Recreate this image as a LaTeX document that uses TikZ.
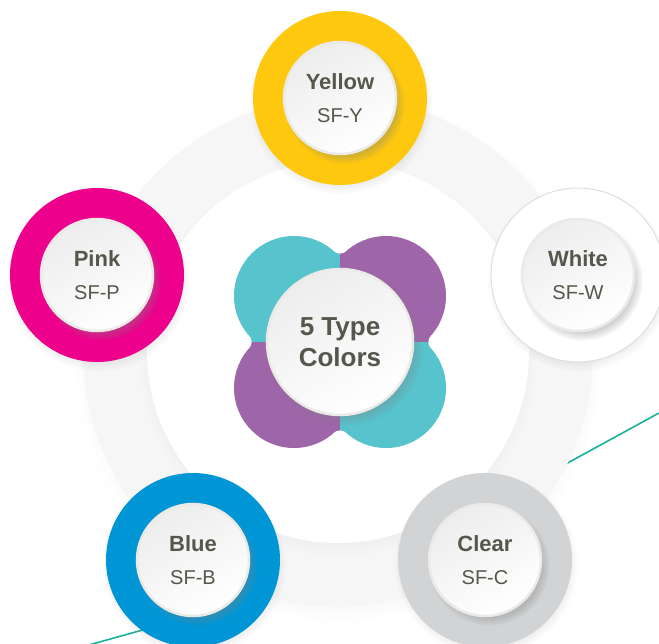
\documentclass[tikz,border=0pt]{standalone}
\usepackage{fontspec}
\setmainfont{Liberation Sans}
\usetikzlibrary{shadows}

\definecolor{yellowc}{HTML}{FDC80D}
\definecolor{pinkc}{HTML}{EC008C}
\definecolor{bluec}{HTML}{0096D6}
\definecolor{clearc}{HTML}{D1D3D5}
\definecolor{whiteedge}{HTML}{DCDEE1}
\definecolor{lobeteal}{HTML}{56C3CD}
\definecolor{lobepurple}{HTML}{9E65A9}
\definecolor{linec}{HTML}{18B29A}
\definecolor{labelc}{HTML}{56574C}
\definecolor{rimc}{HTML}{ECEAE7}
\definecolor{facetop}{HTML}{EDEDED}
\definecolor{bandc}{HTML}{F6F6F7}

\begin{document}
\begin{tikzpicture}[x=1pt, y=-1pt,
  every node/.style={text=labelc},
  colordisk/.style={circle, minimum size=174pt, inner sep=0pt,
    circular drop shadow={shadow xshift=1pt, shadow yshift=-4pt, shadow scale=1.06, opacity=0.18}},
  labeldisk/.style={circle, minimum size=112pt, inner sep=0pt, align=center,
    draw=rimc, line width=2.5pt, top color=facetop, bottom color=white, shading angle=30,
    circular drop shadow={shadow xshift=4pt, shadow yshift=-5pt, shadow scale=1.08, opacity=0.35},
    font=\fontsize{20}{33}\selectfont},
  bgshadow/.style={circular drop shadow={shadow xshift=0pt, shadow yshift=-6pt, shadow scale=1.04, opacity=0.10}}]
  \useasboundingbox (0,0) rectangle (659,643);

  % teal lines behind
  \coordinate (rl1) at (659,413);
  \coordinate (rl2) at (520,489);
  \coordinate (ll1) at (60,653);
  \coordinate (ll2) at (175,621);
  \draw[linec, line width=1.6pt] (rl1) -- (rl2);
  \draw[linec, line width=1.6pt] (ll1) -- (ll2);

  % background rings
  \fill[bandc, bgshadow] (338,352) circle[radius=255];
  \fill[white, bgshadow] (338,352) circle[radius=191];

  % clover
  \foreach \qa/\qb/\qc in {200/200/lobeteal, 480/200/lobepurple, 200/480/lobepurple, 480/480/lobeteal} {
    \begin{scope}
      \clip (340,342) rectangle (\qa,\qb);
      \foreach \lx/\ly in {294/296, 386/296, 294/388, 386/388}
        \fill[\qc] (\lx,\ly) circle[radius=60];
      \fill[\qc] (294,296) -- (340,244.6) -- (386,296) -- (437.4,342) -- (386,388)
        -- (340,439.4) -- (294,388) -- (242.6,342) -- cycle;
    \end{scope}
  }
  \foreach \nx/\ny in {340/244.6, 437.4/342, 340/439.4, 242.6/342}
    \fill[white] (\nx,\ny) circle[radius=9];

  \node[labeldisk, minimum size=146pt, font=\bfseries\fontsize{26}{31}\selectfont] (center) at (340,342) {5 Type\\Colors};

  % colour discs
  \node[colordisk, fill=yellowc] (yellow) at (340,98) {};
  \node[colordisk, fill=pinkc] (pink) at (97,275) {};
  \node[colordisk, fill=white, draw=whiteedge, line width=1pt] (white) at (578,275) {};
  \node[colordisk, fill=bluec] (blue) at (193,560) {};
  \node[colordisk, fill=clearc] (clear) at (485,560) {};

  \node[labeldisk] (yellowlbl) at (yellow) {{\bfseries\fontsize{22}{33}\selectfont Yellow}\\SF-Y};
  \node[labeldisk] (pinklbl) at (pink) {{\bfseries\fontsize{22}{33}\selectfont Pink}\\SF-P};
  \node[labeldisk] (whitelbl) at (white) {{\bfseries\fontsize{22}{33}\selectfont White}\\SF-W};
  \node[labeldisk] (bluelbl) at (blue) {{\bfseries\fontsize{22}{33}\selectfont Blue}\\SF-B};
  \node[labeldisk] (clearlbl) at (clear) {{\bfseries\fontsize{22}{33}\selectfont Clear}\\SF-C};
\end{tikzpicture}
\end{document}
